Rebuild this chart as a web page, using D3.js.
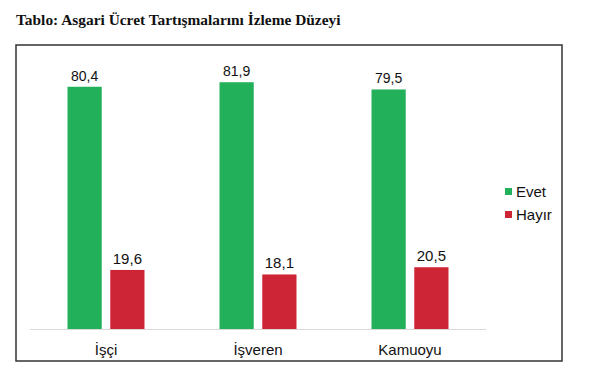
<!DOCTYPE html>
<html>
<head>
<meta charset="utf-8">
<script src="https://cdn.jsdelivr.net/npm/d3@7"></script>
<style>
  html, body { margin: 0; padding: 0; background: #fff; }
  svg { display: block; }
</style>
</head>
<body>
<svg id="chart" width="600" height="378"></svg>
<script>
const title = "Tablo: Asgari Ücret Tartışmalarını İzleme Düzeyi";
const categories = ["İşçi", "İşveren", "Kamuoyu"];
const seriesNames = ["Evet", "Hayır"];
const evetValues = [80.4, 81.9, 79.5];
const hayirValues = [19.6, 18.1, 20.5];
const valueLabelsEvet = ["80,4", "81,9", "79,5"];
const valueLabelsHayir = ["19,6", "18,1", "20,5"];
const colors = ["#22b05a", "#cd2535"];

const svg = d3.select("#chart");

// title
svg.append("text")
  .attr("x", 16).attr("y", 25)
  .attr("font-family", "'Liberation Serif', 'Times New Roman', serif")
  .attr("font-weight", "bold")
  .attr("font-size", "15.4px")
  .attr("fill", "#111")
  .text(title);

// frame
svg.append("rect")
  .attr("x", 16).attr("y", 45)
  .attr("width", 546).attr("height", 316)
  .attr("fill", "none")
  .attr("stroke", "#333")
  .attr("stroke-width", 1.5);

const baseY = 329;
const y = d3.scaleLinear().domain([0, 90]).range([baseY, baseY - 90 * 3.013]);
const x0 = d3.scaleBand().domain(categories).range([30, 486]).padding(0);
const x1 = d3.scaleBand().domain(seriesNames).range([-38.5, 38.5]).paddingInner(0.2).paddingOuter(0);

const rows = categories.map((c, i) => ({
  cat: c,
  vals: [
    { s: seriesNames[0], v: evetValues[i], label: valueLabelsEvet[i] },
    { s: seriesNames[1], v: hayirValues[i], label: valueLabelsHayir[i] }
  ]
}));

// baseline
svg.append("line")
  .attr("x1", x0.range()[0]).attr("x2", x0.range()[1])
  .attr("y1", baseY + 0.5).attr("y2", baseY + 0.5)
  .attr("stroke", "#d9d9d9").attr("stroke-width", 1);

const g = svg.selectAll("g.grp").data(rows).enter().append("g")
  .attr("class", "grp")
  .attr("transform", d => `translate(${x0(d.cat) + x0.bandwidth() / 2},0)`);

g.selectAll("rect").data(d => d.vals).enter().append("rect")
  .attr("x", d => x1(d.s))
  .attr("width", x1.bandwidth())
  .attr("y", d => y(d.v))
  .attr("height", d => baseY - y(d.v))
  .attr("fill", (d, i) => colors[i]);

g.selectAll("text.val").data(d => d.vals).enter().append("text")
  .attr("class", "val")
  .attr("x", d => x1(d.s) + x1.bandwidth() / 2)
  .attr("y", d => y(d.v) - 6)
  .attr("text-anchor", "middle")
  .attr("font-family", "'Liberation Sans', Arial, sans-serif")
  .attr("font-size", (d, i) => i === 0 ? "14px" : "15px")
  .attr("fill", "#111")
  .text(d => d.label);

// category labels
svg.selectAll("text.cat").data(categories).enter().append("text")
  .attr("class", "cat")
  .attr("x", d => x0(d) + x0.bandwidth() / 2)
  .attr("y", 355)
  .attr("text-anchor", "middle")
  .attr("font-family", "'Liberation Sans', Arial, sans-serif")
  .attr("font-size", "15px")
  .attr("fill", "#111")
  .text(d => d);

// legend
const leg = svg.selectAll("g.leg").data(seriesNames).enter().append("g")
  .attr("class", "leg")
  .attr("transform", (d, i) => `translate(505,${188 + i * 23})`);
leg.append("rect")
  .attr("width", 7).attr("height", 7)
  .attr("fill", (d, i) => colors[i]);
leg.append("text")
  .attr("x", 11).attr("y", 9)
  .attr("font-family", "'Liberation Sans', Arial, sans-serif")
  .attr("font-size", "15px")
  .attr("fill", "#111")
  .text(d => d);
</script>
</body>
</html>
